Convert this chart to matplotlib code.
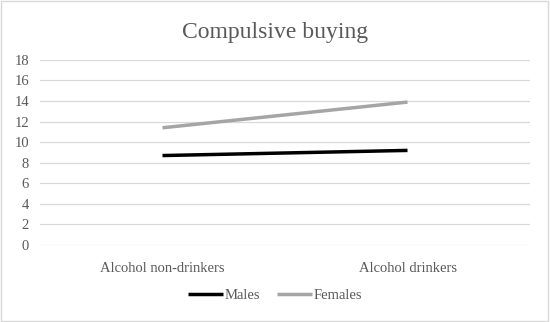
import matplotlib.pyplot as plt
from matplotlib.patches import Rectangle

categories = ['Alcohol non-drinkers', 'Alcohol drinkers']
males = [8.7, 9.2]
females = [11.4, 13.9]

plt.rcParams['font.family'] = 'Liberation Serif'

fig = plt.figure(figsize=(5.5, 3.22), dpi=100)
ax = fig.add_axes([0.0727, 0.239, 0.891, 0.575])

x = range(len(categories))
ax.plot(x, males, color='black', lw=2.5, label='Males', solid_capstyle='butt')
ax.plot(x, females, color='#a5a5a5', lw=2.5, label='Females', solid_capstyle='butt')

ax.set_xlim(-0.5, 1.5)
ax.set_ylim(0, 18)
ax.set_yticks(range(0, 19, 2))
ax.set_xticks(list(x))
ax.set_xticklabels(categories)
ax.grid(axis='y', color='#d9d9d9', lw=0.9)
ax.set_axisbelow(True)
for s in ax.spines.values():
    s.set_visible(False)
ax.tick_params(length=0, labelsize=10.5, colors='#595959', pad=8)
ax.tick_params(axis='x', pad=12)

fig.text(0.5, 0.9, 'Compulsive buying', ha='center', va='center',
         fontsize=17, color='#595959')

fig.legend(loc='center', bbox_to_anchor=(0.5, 0.083), ncol=2, frameon=False,
           fontsize=10.5, handlelength=2.4, handletextpad=0.1, columnspacing=1.2,
           labelcolor='#595959')

fig.patches.append(Rectangle((0.002, 0.003), 0.995, 0.994, transform=fig.transFigure,
                             fill=False, edgecolor='#d9d9d9', lw=1))

fig.savefig('out.png', dpi=100)
